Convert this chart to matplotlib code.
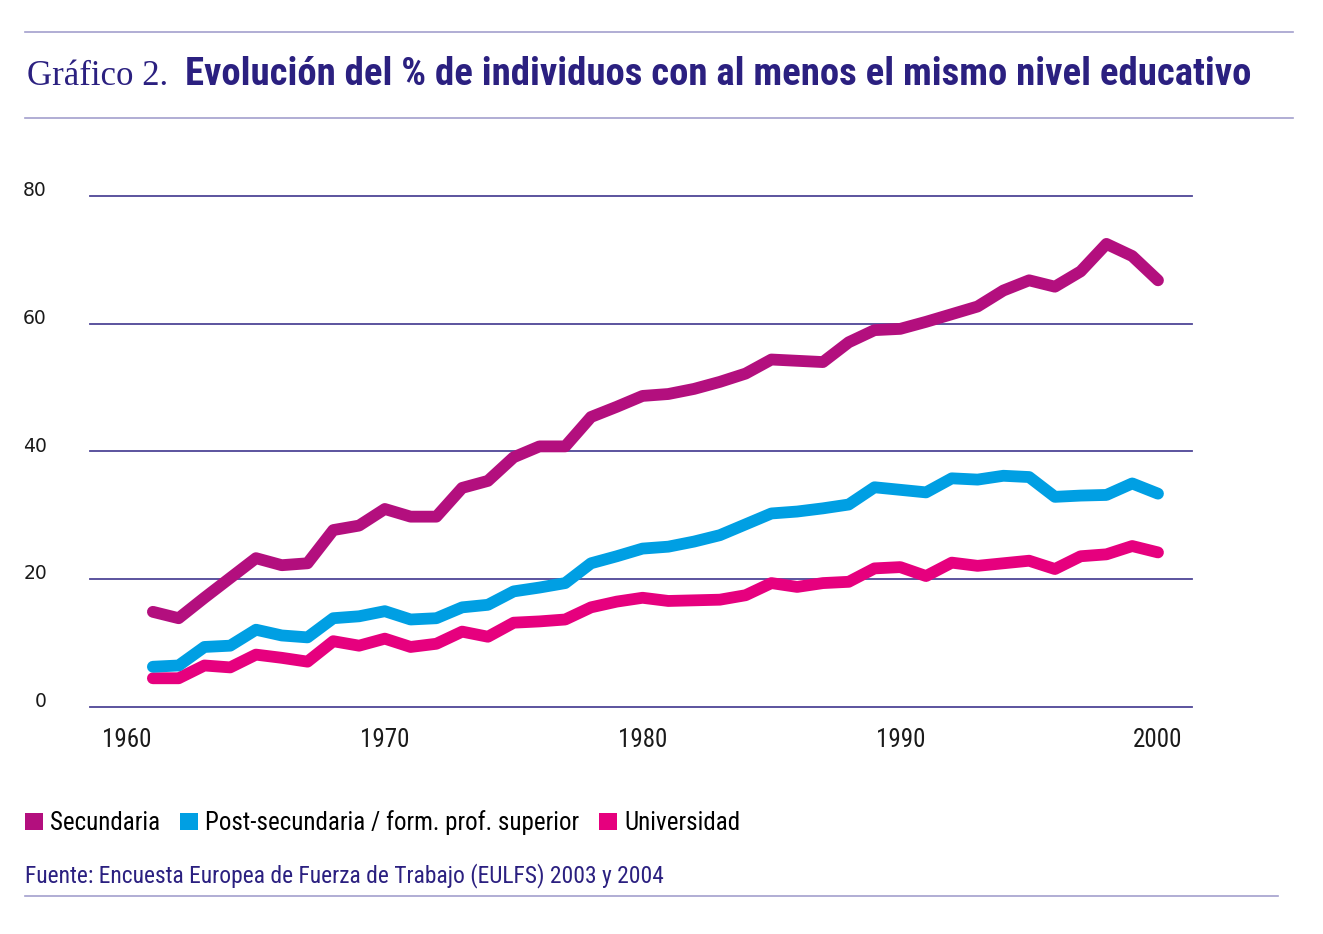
import matplotlib
matplotlib.use('Agg')
from matplotlib import pyplot as plt
from matplotlib import font_manager
from matplotlib.patches import Patch
from matplotlib.lines import Line2D

### datos ###
anios = list(range(1961, 2001))

secundaria = [14.9, 13.9, 17.1, 20.2, 23.3, 22.2, 22.5, 27.7, 28.4, 31.0,
              29.8, 29.8, 34.3, 35.4, 39.1, 40.8, 40.8, 45.4, 47.0, 48.7,
              49.0, 49.8, 50.9, 52.2, 54.4, 54.2, 54.0, 57.1, 59.0, 59.2,
              60.3, 61.5, 62.7, 65.2, 66.8, 65.8, 68.2, 72.5, 70.6, 66.8]

post_secundaria = [6.3, 6.5, 9.4, 9.6, 12.1, 11.2, 10.9, 13.9, 14.2, 15.0,
                   13.7, 13.9, 15.6, 16.0, 18.1, 18.7, 19.4, 22.5, 23.6, 24.8,
                   25.1, 25.9, 26.9, 28.6, 30.3, 30.6, 31.1, 31.7, 34.4, 34.0,
                   33.6, 35.8, 35.6, 36.2, 36.0, 32.9, 33.1, 33.2, 35.0, 33.4]

universidad = [4.5, 4.5, 6.5, 6.2, 8.2, 7.7, 7.1, 10.3, 9.6, 10.7,
               9.4, 9.9, 11.8, 11.0, 13.2, 13.4, 13.7, 15.6, 16.5, 17.1,
               16.6, 16.7, 16.8, 17.5, 19.4, 18.8, 19.4, 19.6, 21.7, 21.9,
               20.5, 22.6, 22.1, 22.5, 22.9, 21.6, 23.6, 23.9, 25.2, 24.2]

series = ['Secundaria', 'Post-secundaria / form. prof. superior', 'Universidad']
colores = ['#B30F7E', '#009FE3', '#E6007E']

yticks = [0, 20, 40, 60, 80]
xticks = [1960, 1970, 1980, 1990, 2000]

titulo_num = 'Gráfico 2.'
titulo = 'Evolución del % de individuos con al menos el mismo nivel educativo'
fuente = 'Fuente: Encuesta Europea de Fuerza de Trabajo (EULFS) 2003 y 2004'

# fuentes disponibles
disponibles = {f.name for f in font_manager.fontManager.ttflist}
estrecha = 'Liberation Sans Narrow'
if estrecha not in disponibles:
    estrecha = 'Roboto Condensed' if 'Roboto Condensed' in disponibles else 'Roboto'

azul_oscuro = '#2B2080'
grilla = '#4E4596'
reglas = '#A39FCD'

W, H = 1323, 934
fig = plt.figure(figsize=(W / 100, H / 100), dpi=100)
fig.patch.set_facecolor('white')

# area del grafico
ax = fig.add_axes([90 / W, 1 - 707 / H, 1102 / W, 511 / H])
ax.plot(anios, universidad, color=colores[2], lw=8.5, solid_capstyle='round', zorder=3)
ax.plot(anios, post_secundaria, color=colores[1], lw=8.5, solid_capstyle='round', zorder=4)
ax.plot(anios, secundaria, color=colores[0], lw=8.5, solid_capstyle='round', zorder=5)

ax.set_xlim(1958.56, 2001.32)
ax.set_ylim(0, 80)
ax.set_yticks(yticks)
ax.set_xticks(xticks)
for s in ax.spines.values():
    s.set_visible(False)
ax.grid(axis='y', color=grilla, lw=1.3)
ax.set_axisbelow(True)
for gl in ax.get_ygridlines():
    gl.set_clip_on(False)

ax.tick_params(axis='y', length=0, pad=31)
ax.tick_params(axis='x', length=0, pad=15)
for lab in ax.get_yticklabels():
    lab.set_fontfamily('DejaVu Sans')
    lab.set_fontsize(13.5)
    lab.set_verticalalignment('baseline')
    lab.set_color('#1a1a1a')
for lab in ax.get_xticklabels():
    lab.set_fontfamily(estrecha)
    lab.set_fontsize(18)
    lab.set_color('#1a1a1a')

# lineas horizontales del encabezado y pie
fig.add_artist(Line2D([25 / W, 1293 / W], [1 - 32 / H] * 2, color=reglas, lw=1.2))
fig.add_artist(Line2D([25 / W, 1293 / W], [1 - 118 / H] * 2, color=reglas, lw=1.2))
fig.add_artist(Line2D([25 / W, 1278 / W], [1 - 896 / H] * 2, color=reglas, lw=1.2))

# titulo
fig.text(27 / W, 1 - 85 / H, titulo_num, family='Liberation Serif', fontsize=25,
         color=azul_oscuro, va='baseline', ha='left')
t = fig.text(185 / W, 1 - 85 / H, titulo, family=estrecha, fontweight='bold',
             fontsize=26, color=azul_oscuro, va='baseline', ha='left')

# fuente
f = fig.text(25 / W, 1 - 876 / H, fuente, family=estrecha, fontsize=16,
             color=azul_oscuro, va='center', ha='left')

# leyenda
handles = [Patch(facecolor=c, edgecolor='none') for c in colores]
leg = fig.legend(handles, series, loc='center left', bbox_to_anchor=(25 / W, 1 - 823 / H),
                 ncol=3, frameon=False, borderpad=0, borderaxespad=0,
                 handlelength=0.7, handleheight=0.7, handletextpad=0.3,
                 columnspacing=0.8, prop={'family': estrecha, 'size': 18})

# ajustar anchos de los textos al original
fig.canvas.draw()
r = fig.canvas.get_renderer()
w = t.get_window_extent(r).width
t.set_fontsize(26 * 1065 / w)
w = f.get_window_extent(r).width
f.set_fontsize(16 * 641 / w)

fig.savefig('out.png', dpi=100)
